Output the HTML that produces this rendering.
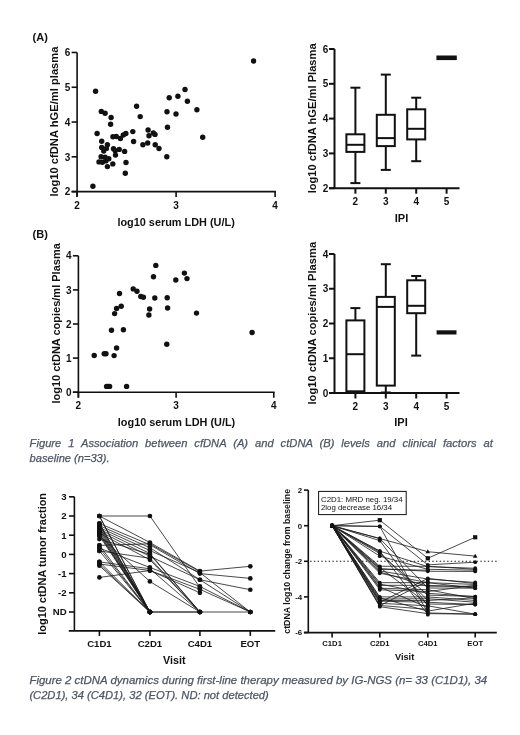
<!DOCTYPE html>
<html><head><meta charset="utf-8"><style>
html,body{margin:0;padding:0;background:#fff;}
svg{display:block;font-family:"Liberation Sans",sans-serif;will-change:transform;}
</style></head><body>
<svg width="520" height="735" viewBox="0 0 520 735">
<rect width="520" height="735" fill="#fff"/>
<text x="32.60" y="41.30" font-size="11" font-weight="bold" text-anchor="start" fill="#111" >(A)</text>
<text x="32.60" y="238.30" font-size="11" font-weight="bold" text-anchor="start" fill="#111" >(B)</text>
<line x1="77.10" y1="52.48" x2="77.10" y2="197.10" stroke="#111" stroke-width="1.6" />
<line x1="71.60" y1="191.60" x2="275.90" y2="191.60" stroke="#111" stroke-width="1.6" />
<line x1="71.60" y1="191.60" x2="77.10" y2="191.60" stroke="#111" stroke-width="1.6" />
<text x="70.20" y="195.40" font-size="10" font-weight="bold" text-anchor="end" fill="#111" >2</text>
<line x1="71.60" y1="156.82" x2="77.10" y2="156.82" stroke="#111" stroke-width="1.6" />
<text x="70.20" y="160.62" font-size="10" font-weight="bold" text-anchor="end" fill="#111" >3</text>
<line x1="71.60" y1="122.04" x2="77.10" y2="122.04" stroke="#111" stroke-width="1.6" />
<text x="70.20" y="125.84" font-size="10" font-weight="bold" text-anchor="end" fill="#111" >4</text>
<line x1="71.60" y1="87.26" x2="77.10" y2="87.26" stroke="#111" stroke-width="1.6" />
<text x="70.20" y="91.06" font-size="10" font-weight="bold" text-anchor="end" fill="#111" >5</text>
<line x1="71.60" y1="52.48" x2="77.10" y2="52.48" stroke="#111" stroke-width="1.6" />
<text x="70.20" y="56.28" font-size="10" font-weight="bold" text-anchor="end" fill="#111" >6</text>
<line x1="77.10" y1="191.60" x2="77.10" y2="197.10" stroke="#111" stroke-width="1.6" />
<text x="77.10" y="208.80" font-size="10" font-weight="bold" text-anchor="middle" fill="#111" >2</text>
<line x1="176.10" y1="191.60" x2="176.10" y2="197.10" stroke="#111" stroke-width="1.6" />
<text x="176.10" y="208.80" font-size="10" font-weight="bold" text-anchor="middle" fill="#111" >3</text>
<line x1="275.10" y1="191.60" x2="275.10" y2="197.10" stroke="#111" stroke-width="1.6" />
<text x="275.10" y="208.80" font-size="10" font-weight="bold" text-anchor="middle" fill="#111" >4</text>
<text x="176.10" y="226.00" font-size="10.9" font-weight="bold" text-anchor="middle" fill="#111" >log10 serum LDH (U/L)</text>
<text transform="translate(58.00,121.50) rotate(-90)" font-size="11.2" font-weight="bold" text-anchor="middle" fill="#111">log10 cfDNA hGE/ml plasma</text>
<circle cx="95.60" cy="91.20" r="2.7" fill="#111"/>
<circle cx="101.30" cy="111.40" r="2.7" fill="#111"/>
<circle cx="105.10" cy="113.20" r="2.7" fill="#111"/>
<circle cx="111.10" cy="117.50" r="2.7" fill="#111"/>
<circle cx="110.60" cy="124.20" r="2.7" fill="#111"/>
<circle cx="136.60" cy="106.20" r="2.7" fill="#111"/>
<circle cx="140.20" cy="116.60" r="2.7" fill="#111"/>
<circle cx="132.80" cy="131.60" r="2.7" fill="#111"/>
<circle cx="97.10" cy="133.50" r="2.7" fill="#111"/>
<circle cx="112.90" cy="136.70" r="2.7" fill="#111"/>
<circle cx="116.30" cy="136.50" r="2.7" fill="#111"/>
<circle cx="120.40" cy="138.50" r="2.7" fill="#111"/>
<circle cx="123.30" cy="135.00" r="2.7" fill="#111"/>
<circle cx="125.90" cy="133.50" r="2.7" fill="#111"/>
<circle cx="133.60" cy="141.50" r="2.7" fill="#111"/>
<circle cx="101.70" cy="141.30" r="2.7" fill="#111"/>
<circle cx="107.40" cy="144.70" r="2.7" fill="#111"/>
<circle cx="101.70" cy="147.40" r="2.7" fill="#111"/>
<circle cx="106.40" cy="148.40" r="2.7" fill="#111"/>
<circle cx="103.70" cy="151.10" r="2.7" fill="#111"/>
<circle cx="113.50" cy="148.70" r="2.7" fill="#111"/>
<circle cx="115.20" cy="150.80" r="2.7" fill="#111"/>
<circle cx="119.20" cy="149.40" r="2.7" fill="#111"/>
<circle cx="124.60" cy="151.40" r="2.7" fill="#111"/>
<circle cx="115.50" cy="155.10" r="2.7" fill="#111"/>
<circle cx="101.10" cy="156.80" r="2.7" fill="#111"/>
<circle cx="105.10" cy="157.20" r="2.7" fill="#111"/>
<circle cx="108.80" cy="158.80" r="2.7" fill="#111"/>
<circle cx="99.00" cy="161.90" r="2.7" fill="#111"/>
<circle cx="102.40" cy="162.20" r="2.7" fill="#111"/>
<circle cx="105.80" cy="160.90" r="2.7" fill="#111"/>
<circle cx="107.40" cy="166.60" r="2.7" fill="#111"/>
<circle cx="112.80" cy="163.90" r="2.7" fill="#111"/>
<circle cx="126.00" cy="162.50" r="2.7" fill="#111"/>
<circle cx="125.30" cy="173.30" r="2.7" fill="#111"/>
<circle cx="92.90" cy="186.30" r="2.7" fill="#111"/>
<circle cx="148.10" cy="130.00" r="2.7" fill="#111"/>
<circle cx="149.00" cy="135.80" r="2.7" fill="#111"/>
<circle cx="153.30" cy="132.90" r="2.7" fill="#111"/>
<circle cx="155.00" cy="134.40" r="2.7" fill="#111"/>
<circle cx="142.90" cy="144.80" r="2.7" fill="#111"/>
<circle cx="147.70" cy="143.00" r="2.7" fill="#111"/>
<circle cx="155.20" cy="144.80" r="2.7" fill="#111"/>
<circle cx="159.00" cy="148.50" r="2.7" fill="#111"/>
<circle cx="166.80" cy="156.80" r="2.7" fill="#111"/>
<circle cx="167.00" cy="111.70" r="2.7" fill="#111"/>
<circle cx="176.00" cy="114.00" r="2.7" fill="#111"/>
<circle cx="196.90" cy="109.80" r="2.7" fill="#111"/>
<circle cx="167.50" cy="127.20" r="2.7" fill="#111"/>
<circle cx="169.20" cy="97.70" r="2.7" fill="#111"/>
<circle cx="177.90" cy="96.30" r="2.7" fill="#111"/>
<circle cx="187.40" cy="101.20" r="2.7" fill="#111"/>
<circle cx="185.00" cy="89.50" r="2.7" fill="#111"/>
<circle cx="202.70" cy="137.30" r="2.7" fill="#111"/>
<circle cx="253.60" cy="61.00" r="2.7" fill="#111"/>
<line x1="334.50" y1="49.00" x2="334.50" y2="188.20" stroke="#111" stroke-width="2.0" />
<line x1="329.00" y1="188.20" x2="459.50" y2="188.20" stroke="#111" stroke-width="2.0" />
<line x1="329.00" y1="188.20" x2="334.50" y2="188.20" stroke="#111" stroke-width="2.0" />
<text x="328.40" y="191.80" font-size="10" font-weight="bold" text-anchor="end" fill="#111" >2</text>
<line x1="329.00" y1="153.40" x2="334.50" y2="153.40" stroke="#111" stroke-width="2.0" />
<text x="328.40" y="157.00" font-size="10" font-weight="bold" text-anchor="end" fill="#111" >3</text>
<line x1="329.00" y1="118.60" x2="334.50" y2="118.60" stroke="#111" stroke-width="2.0" />
<text x="328.40" y="122.20" font-size="10" font-weight="bold" text-anchor="end" fill="#111" >4</text>
<line x1="329.00" y1="83.80" x2="334.50" y2="83.80" stroke="#111" stroke-width="2.0" />
<text x="328.40" y="87.40" font-size="10" font-weight="bold" text-anchor="end" fill="#111" >5</text>
<line x1="329.00" y1="49.00" x2="334.50" y2="49.00" stroke="#111" stroke-width="2.0" />
<text x="328.40" y="52.60" font-size="10" font-weight="bold" text-anchor="end" fill="#111" >6</text>
<line x1="355.40" y1="188.20" x2="355.40" y2="193.70" stroke="#111" stroke-width="2.0" />
<text x="355.40" y="205.40" font-size="10" font-weight="bold" text-anchor="middle" fill="#111" >2</text>
<line x1="385.80" y1="188.20" x2="385.80" y2="193.70" stroke="#111" stroke-width="2.0" />
<text x="385.80" y="205.40" font-size="10" font-weight="bold" text-anchor="middle" fill="#111" >3</text>
<line x1="416.20" y1="188.20" x2="416.20" y2="193.70" stroke="#111" stroke-width="2.0" />
<text x="416.20" y="205.40" font-size="10" font-weight="bold" text-anchor="middle" fill="#111" >4</text>
<line x1="446.60" y1="188.20" x2="446.60" y2="193.70" stroke="#111" stroke-width="2.0" />
<text x="446.60" y="205.40" font-size="10" font-weight="bold" text-anchor="middle" fill="#111" >5</text>
<text x="401.50" y="221.90" font-size="11" font-weight="bold" text-anchor="middle" fill="#111" >IPI</text>
<text transform="translate(315.90,118.35) rotate(-90)" font-size="11.15" font-weight="bold" text-anchor="middle" fill="#111">log10 cfDNA hGE/ml Plasma</text>
<line x1="355.40" y1="134.30" x2="355.40" y2="87.70" stroke="#111" stroke-width="2.0" />
<line x1="350.40" y1="87.70" x2="360.40" y2="87.70" stroke="#111" stroke-width="2.0" />
<line x1="355.40" y1="151.90" x2="355.40" y2="183.10" stroke="#111" stroke-width="2.0" />
<line x1="350.40" y1="183.10" x2="360.40" y2="183.10" stroke="#111" stroke-width="2.0" />
<rect x="346.40" y="134.30" width="18.00" height="17.60" fill="none" stroke="#111" stroke-width="2.0"/>
<line x1="346.40" y1="144.80" x2="364.40" y2="144.80" stroke="#111" stroke-width="2.0" />
<line x1="385.80" y1="114.80" x2="385.80" y2="74.60" stroke="#111" stroke-width="2.0" />
<line x1="380.80" y1="74.60" x2="390.80" y2="74.60" stroke="#111" stroke-width="2.0" />
<line x1="385.80" y1="146.10" x2="385.80" y2="169.90" stroke="#111" stroke-width="2.0" />
<line x1="380.80" y1="169.90" x2="390.80" y2="169.90" stroke="#111" stroke-width="2.0" />
<rect x="376.80" y="114.80" width="18.00" height="31.30" fill="none" stroke="#111" stroke-width="2.0"/>
<line x1="376.80" y1="138.10" x2="394.80" y2="138.10" stroke="#111" stroke-width="2.0" />
<line x1="416.20" y1="109.30" x2="416.20" y2="97.70" stroke="#111" stroke-width="2.0" />
<line x1="411.20" y1="97.70" x2="421.20" y2="97.70" stroke="#111" stroke-width="2.0" />
<line x1="416.20" y1="139.40" x2="416.20" y2="161.20" stroke="#111" stroke-width="2.0" />
<line x1="411.20" y1="161.20" x2="421.20" y2="161.20" stroke="#111" stroke-width="2.0" />
<rect x="407.20" y="109.30" width="18.00" height="30.10" fill="none" stroke="#111" stroke-width="2.0"/>
<line x1="407.20" y1="128.80" x2="425.20" y2="128.80" stroke="#111" stroke-width="2.0" />
<rect x="436.4" y="55.5" width="20.4" height="4.6" fill="#111"/>
<line x1="78.40" y1="255.80" x2="78.40" y2="397.70" stroke="#111" stroke-width="1.6" />
<line x1="72.90" y1="392.20" x2="274.60" y2="392.20" stroke="#111" stroke-width="1.6" />
<line x1="72.90" y1="392.20" x2="78.40" y2="392.20" stroke="#111" stroke-width="1.6" />
<text x="71.50" y="395.80" font-size="10" font-weight="bold" text-anchor="end" fill="#111" >0</text>
<line x1="72.90" y1="358.10" x2="78.40" y2="358.10" stroke="#111" stroke-width="1.6" />
<text x="71.50" y="361.70" font-size="10" font-weight="bold" text-anchor="end" fill="#111" >1</text>
<line x1="72.90" y1="324.00" x2="78.40" y2="324.00" stroke="#111" stroke-width="1.6" />
<text x="71.50" y="327.60" font-size="10" font-weight="bold" text-anchor="end" fill="#111" >2</text>
<line x1="72.90" y1="289.90" x2="78.40" y2="289.90" stroke="#111" stroke-width="1.6" />
<text x="71.50" y="293.50" font-size="10" font-weight="bold" text-anchor="end" fill="#111" >3</text>
<line x1="72.90" y1="255.80" x2="78.40" y2="255.80" stroke="#111" stroke-width="1.6" />
<text x="71.50" y="259.40" font-size="10" font-weight="bold" text-anchor="end" fill="#111" >4</text>
<line x1="78.40" y1="392.20" x2="78.40" y2="397.70" stroke="#111" stroke-width="1.6" />
<text x="78.40" y="409.40" font-size="10" font-weight="bold" text-anchor="middle" fill="#111" >2</text>
<line x1="176.10" y1="392.20" x2="176.10" y2="397.70" stroke="#111" stroke-width="1.6" />
<text x="176.10" y="409.40" font-size="10" font-weight="bold" text-anchor="middle" fill="#111" >3</text>
<line x1="273.80" y1="392.20" x2="273.80" y2="397.70" stroke="#111" stroke-width="1.6" />
<text x="273.80" y="409.40" font-size="10" font-weight="bold" text-anchor="middle" fill="#111" >4</text>
<text x="176.50" y="425.60" font-size="10.9" font-weight="bold" text-anchor="middle" fill="#111" >log10 serum LDH (U/L)</text>
<text transform="translate(59.80,323.40) rotate(-90)" font-size="11.0" font-weight="bold" text-anchor="middle" fill="#111">log10 ctDNA copies/ml Plasma</text>
<circle cx="94.20" cy="355.50" r="2.7" fill="#111"/>
<circle cx="104.20" cy="353.70" r="2.7" fill="#111"/>
<circle cx="106.00" cy="353.70" r="2.7" fill="#111"/>
<circle cx="114.10" cy="355.60" r="2.7" fill="#111"/>
<circle cx="116.60" cy="348.00" r="2.7" fill="#111"/>
<circle cx="111.50" cy="330.30" r="2.7" fill="#111"/>
<circle cx="123.40" cy="329.70" r="2.7" fill="#111"/>
<circle cx="114.60" cy="313.60" r="2.7" fill="#111"/>
<circle cx="116.60" cy="308.50" r="2.7" fill="#111"/>
<circle cx="121.20" cy="306.30" r="2.7" fill="#111"/>
<circle cx="119.50" cy="293.50" r="2.7" fill="#111"/>
<circle cx="133.20" cy="288.90" r="2.7" fill="#111"/>
<circle cx="137.00" cy="291.20" r="2.7" fill="#111"/>
<circle cx="140.80" cy="296.50" r="2.7" fill="#111"/>
<circle cx="143.40" cy="297.20" r="2.7" fill="#111"/>
<circle cx="153.50" cy="276.80" r="2.7" fill="#111"/>
<circle cx="155.80" cy="265.40" r="2.7" fill="#111"/>
<circle cx="154.80" cy="298.00" r="2.7" fill="#111"/>
<circle cx="149.60" cy="309.00" r="2.7" fill="#111"/>
<circle cx="148.90" cy="315.00" r="2.7" fill="#111"/>
<circle cx="167.20" cy="297.70" r="2.7" fill="#111"/>
<circle cx="167.60" cy="308.00" r="2.7" fill="#111"/>
<circle cx="175.80" cy="280.00" r="2.7" fill="#111"/>
<circle cx="184.40" cy="273.10" r="2.7" fill="#111"/>
<circle cx="187.00" cy="278.60" r="2.7" fill="#111"/>
<circle cx="196.50" cy="313.10" r="2.7" fill="#111"/>
<circle cx="166.80" cy="344.20" r="2.7" fill="#111"/>
<circle cx="252.10" cy="332.50" r="2.7" fill="#111"/>
<circle cx="106.60" cy="386.40" r="2.7" fill="#111"/>
<circle cx="108.20" cy="386.40" r="2.7" fill="#111"/>
<circle cx="109.60" cy="386.40" r="2.7" fill="#111"/>
<circle cx="126.60" cy="386.40" r="2.7" fill="#111"/>
<line x1="334.50" y1="254.00" x2="334.50" y2="393.00" stroke="#111" stroke-width="2.0" />
<line x1="329.00" y1="393.00" x2="459.50" y2="393.00" stroke="#111" stroke-width="2.0" />
<line x1="329.00" y1="393.00" x2="334.50" y2="393.00" stroke="#111" stroke-width="2.0" />
<text x="328.40" y="396.60" font-size="10" font-weight="bold" text-anchor="end" fill="#111" >0</text>
<line x1="329.00" y1="358.25" x2="334.50" y2="358.25" stroke="#111" stroke-width="2.0" />
<text x="328.40" y="361.85" font-size="10" font-weight="bold" text-anchor="end" fill="#111" >1</text>
<line x1="329.00" y1="323.50" x2="334.50" y2="323.50" stroke="#111" stroke-width="2.0" />
<text x="328.40" y="327.10" font-size="10" font-weight="bold" text-anchor="end" fill="#111" >2</text>
<line x1="329.00" y1="288.75" x2="334.50" y2="288.75" stroke="#111" stroke-width="2.0" />
<text x="328.40" y="292.35" font-size="10" font-weight="bold" text-anchor="end" fill="#111" >3</text>
<line x1="329.00" y1="254.00" x2="334.50" y2="254.00" stroke="#111" stroke-width="2.0" />
<text x="328.40" y="257.60" font-size="10" font-weight="bold" text-anchor="end" fill="#111" >4</text>
<line x1="355.40" y1="393.00" x2="355.40" y2="398.50" stroke="#111" stroke-width="2.0" />
<text x="355.40" y="409.60" font-size="10" font-weight="bold" text-anchor="middle" fill="#111" >2</text>
<line x1="385.80" y1="393.00" x2="385.80" y2="398.50" stroke="#111" stroke-width="2.0" />
<text x="385.80" y="409.60" font-size="10" font-weight="bold" text-anchor="middle" fill="#111" >3</text>
<line x1="416.20" y1="393.00" x2="416.20" y2="398.50" stroke="#111" stroke-width="2.0" />
<text x="416.20" y="409.60" font-size="10" font-weight="bold" text-anchor="middle" fill="#111" >4</text>
<line x1="446.60" y1="393.00" x2="446.60" y2="398.50" stroke="#111" stroke-width="2.0" />
<text x="446.60" y="409.60" font-size="10" font-weight="bold" text-anchor="middle" fill="#111" >5</text>
<text x="401.00" y="426.40" font-size="11" font-weight="bold" text-anchor="middle" fill="#111" >IPI</text>
<text transform="translate(315.90,323.20) rotate(-90)" font-size="11.17" font-weight="bold" text-anchor="middle" fill="#111">log10 ctDNA copies/ml Plasma</text>
<line x1="355.40" y1="320.40" x2="355.40" y2="308.10" stroke="#111" stroke-width="2.0" />
<line x1="350.40" y1="308.10" x2="360.40" y2="308.10" stroke="#111" stroke-width="2.0" />
<rect x="346.40" y="320.40" width="18.00" height="70.90" fill="none" stroke="#111" stroke-width="2.0"/>
<line x1="346.40" y1="354.20" x2="364.40" y2="354.20" stroke="#111" stroke-width="2.0" />
<line x1="385.80" y1="296.90" x2="385.80" y2="264.20" stroke="#111" stroke-width="2.0" />
<line x1="380.80" y1="264.20" x2="390.80" y2="264.20" stroke="#111" stroke-width="2.0" />
<line x1="385.80" y1="385.60" x2="385.80" y2="392.50" stroke="#111" stroke-width="2.0" />
<line x1="380.80" y1="392.50" x2="390.80" y2="392.50" stroke="#111" stroke-width="2.0" />
<rect x="376.80" y="296.90" width="18.00" height="88.70" fill="none" stroke="#111" stroke-width="2.0"/>
<line x1="376.80" y1="306.90" x2="394.80" y2="306.90" stroke="#111" stroke-width="2.0" />
<line x1="416.20" y1="280.30" x2="416.20" y2="276.00" stroke="#111" stroke-width="2.0" />
<line x1="411.20" y1="276.00" x2="421.20" y2="276.00" stroke="#111" stroke-width="2.0" />
<line x1="416.20" y1="313.20" x2="416.20" y2="355.60" stroke="#111" stroke-width="2.0" />
<line x1="411.20" y1="355.60" x2="421.20" y2="355.60" stroke="#111" stroke-width="2.0" />
<rect x="407.20" y="280.30" width="18.00" height="32.90" fill="none" stroke="#111" stroke-width="2.0"/>
<line x1="407.20" y1="305.80" x2="425.20" y2="305.80" stroke="#111" stroke-width="2.0" />
<rect x="436.6" y="330.3" width="19.9" height="4.2" fill="#111"/>
<text x="29.6" y="447.0" font-size="11.2" font-style="italic" fill="#4f5663" stroke="#4f5663" stroke-width="0.25" word-spacing="3.821">Figure 1 Association between cfDNA (A) and ctDNA (B) levels and clinical factors at</text>
<text x="29.6" y="461.9" font-size="11.2" font-style="italic" fill="#4f5663" stroke="#4f5663" stroke-width="0.25" textLength="80.0" lengthAdjust="spacingAndGlyphs">baseline (n=33).</text>
<text x="29.4" y="683.8" font-size="11.2" font-style="italic" fill="#4f5663" stroke="#4f5663" stroke-width="0.25" textLength="457.8" lengthAdjust="spacingAndGlyphs">Figure 2 ctDNA dynamics during first-line therapy measured by IG-NGS (n= 33 (C1D1), 34</text>
<text x="29.4" y="698.8" font-size="11.2" font-style="italic" fill="#4f5663" stroke="#4f5663" stroke-width="0.25" textLength="239.4" lengthAdjust="spacingAndGlyphs">(C2D1), 34 (C4D1), 32 (EOT). ND: not detected)</text>
<line x1="74.40" y1="496.80" x2="74.40" y2="630.90" stroke="#111" stroke-width="1.6" />
<line x1="68.80" y1="630.90" x2="275.20" y2="630.90" stroke="#111" stroke-width="1.6" />
<line x1="69.00" y1="496.80" x2="74.40" y2="496.80" stroke="#111" stroke-width="1.6" />
<text x="66.60" y="500.20" font-size="9.6" font-weight="bold" text-anchor="end" fill="#111" >3</text>
<line x1="69.00" y1="516.00" x2="74.40" y2="516.00" stroke="#111" stroke-width="1.6" />
<text x="66.60" y="519.40" font-size="9.6" font-weight="bold" text-anchor="end" fill="#111" >2</text>
<line x1="69.00" y1="535.20" x2="74.40" y2="535.20" stroke="#111" stroke-width="1.6" />
<text x="66.60" y="538.60" font-size="9.6" font-weight="bold" text-anchor="end" fill="#111" >1</text>
<line x1="69.00" y1="554.40" x2="74.40" y2="554.40" stroke="#111" stroke-width="1.6" />
<text x="66.60" y="557.80" font-size="9.6" font-weight="bold" text-anchor="end" fill="#111" >0</text>
<line x1="69.00" y1="573.60" x2="74.40" y2="573.60" stroke="#111" stroke-width="1.6" />
<text x="66.60" y="577.00" font-size="9.6" font-weight="bold" text-anchor="end" fill="#111" >-1</text>
<line x1="69.00" y1="592.80" x2="74.40" y2="592.80" stroke="#111" stroke-width="1.6" />
<text x="66.60" y="596.20" font-size="9.6" font-weight="bold" text-anchor="end" fill="#111" >-2</text>
<line x1="69.00" y1="612.00" x2="74.40" y2="612.00" stroke="#111" stroke-width="1.6" />
<text x="66.60" y="615.40" font-size="9.6" font-weight="bold" text-anchor="end" fill="#111" >ND</text>
<line x1="99.40" y1="630.90" x2="99.40" y2="635.90" stroke="#111" stroke-width="1.6" />
<text x="99.40" y="647.30" font-size="9.6" font-weight="bold" text-anchor="middle" fill="#111" >C1D1</text>
<line x1="149.90" y1="630.90" x2="149.90" y2="635.90" stroke="#111" stroke-width="1.6" />
<text x="149.90" y="647.30" font-size="9.6" font-weight="bold" text-anchor="middle" fill="#111" >C2D1</text>
<line x1="199.90" y1="630.90" x2="199.90" y2="635.90" stroke="#111" stroke-width="1.6" />
<text x="199.90" y="647.30" font-size="9.6" font-weight="bold" text-anchor="middle" fill="#111" >C4D1</text>
<line x1="250.30" y1="630.90" x2="250.30" y2="635.90" stroke="#111" stroke-width="1.6" />
<text x="250.30" y="647.30" font-size="9.6" font-weight="bold" text-anchor="middle" fill="#111" >EOT</text>
<text x="174.40" y="663.50" font-size="10.8" font-weight="bold" text-anchor="middle" fill="#111" >Visit</text>
<text transform="translate(46.00,563.85) rotate(-90)" font-size="10.95" font-weight="bold" text-anchor="middle" fill="#111">log10 ctDNA tumor fraction</text>
<polyline points="99.40,516.00 149.90,612.00" fill="none" stroke="#1a1a1a" stroke-width="0.8"/>
<polyline points="99.40,516.00 149.90,612.00" fill="none" stroke="#1a1a1a" stroke-width="0.8"/>
<polyline points="99.40,523.49 149.90,612.00" fill="none" stroke="#1a1a1a" stroke-width="0.8"/>
<polyline points="99.40,525.60 149.90,612.00" fill="none" stroke="#1a1a1a" stroke-width="0.8"/>
<polyline points="99.40,527.52 149.90,612.00" fill="none" stroke="#1a1a1a" stroke-width="0.8"/>
<polyline points="99.40,529.44 149.90,612.00" fill="none" stroke="#1a1a1a" stroke-width="0.8"/>
<polyline points="99.40,531.36 149.90,612.00" fill="none" stroke="#1a1a1a" stroke-width="0.8"/>
<polyline points="99.40,533.28 149.90,612.00" fill="none" stroke="#1a1a1a" stroke-width="0.8"/>
<polyline points="99.40,535.78 149.90,612.00 199.90,612.00 250.30,612.00" fill="none" stroke="#1a1a1a" stroke-width="0.8"/>
<polyline points="99.40,534.24 149.90,612.00" fill="none" stroke="#1a1a1a" stroke-width="0.8"/>
<polyline points="99.40,545.38 149.90,612.00" fill="none" stroke="#1a1a1a" stroke-width="0.8"/>
<polyline points="99.40,548.06 149.90,612.00" fill="none" stroke="#1a1a1a" stroke-width="0.8"/>
<polyline points="99.40,550.94 149.90,612.00 199.90,612.00" fill="none" stroke="#1a1a1a" stroke-width="0.8"/>
<polyline points="99.40,561.89 149.90,612.00" fill="none" stroke="#1a1a1a" stroke-width="0.8"/>
<polyline points="99.40,564.00 149.90,612.00" fill="none" stroke="#1a1a1a" stroke-width="0.8"/>
<polyline points="99.40,565.73 149.90,612.00" fill="none" stroke="#1a1a1a" stroke-width="0.8"/>
<polyline points="99.40,516.00 149.90,516.00 199.90,587.42" fill="none" stroke="#1a1a1a" stroke-width="0.8"/>
<polyline points="99.40,516.00 149.90,542.50 199.90,571.10 250.30,566.30" fill="none" stroke="#1a1a1a" stroke-width="0.8"/>
<polyline points="99.40,523.49 149.90,544.80 199.90,573.60 250.30,578.40" fill="none" stroke="#1a1a1a" stroke-width="0.8"/>
<polyline points="99.40,525.60 149.90,547.68 199.90,579.74 250.30,589.73" fill="none" stroke="#1a1a1a" stroke-width="0.8"/>
<polyline points="99.40,527.52 149.90,550.56 199.90,572.64 250.30,612.00" fill="none" stroke="#1a1a1a" stroke-width="0.8"/>
<polyline points="99.40,529.44 149.90,553.44 199.90,612.00" fill="none" stroke="#1a1a1a" stroke-width="0.8"/>
<polyline points="99.40,531.36 149.90,556.32 199.90,579.74 250.30,612.00" fill="none" stroke="#1a1a1a" stroke-width="0.8"/>
<polyline points="99.40,533.28 149.90,559.78 199.90,612.00" fill="none" stroke="#1a1a1a" stroke-width="0.8"/>
<polyline points="99.40,535.78 149.90,581.47 199.90,612.00" fill="none" stroke="#1a1a1a" stroke-width="0.8"/>
<polyline points="99.40,545.38 149.90,543.84 199.90,571.68" fill="none" stroke="#1a1a1a" stroke-width="0.8"/>
<polyline points="99.40,548.06 149.90,567.46 199.90,586.46 250.30,612.00" fill="none" stroke="#1a1a1a" stroke-width="0.8"/>
<polyline points="99.40,550.94 149.90,558.24 199.90,612.00" fill="none" stroke="#1a1a1a" stroke-width="0.8"/>
<polyline points="99.40,564.00 149.90,570.53 199.90,592.80" fill="none" stroke="#1a1a1a" stroke-width="0.8"/>
<polyline points="99.40,577.44 149.90,570.53 199.90,589.34 250.30,612.00" fill="none" stroke="#1a1a1a" stroke-width="0.8"/>
<polyline points="99.40,523.49 149.90,612.00" fill="none" stroke="#1a1a1a" stroke-width="0.8"/>
<polyline points="99.40,561.89 149.90,568.80 199.90,612.00" fill="none" stroke="#1a1a1a" stroke-width="0.8"/>
<polyline points="99.40,539.04 149.90,554.40 199.90,612.00" fill="none" stroke="#1a1a1a" stroke-width="0.8"/>
<circle cx="99.40" cy="516.00" r="2.35" fill="#111"/>
<circle cx="149.90" cy="612.00" r="2.35" fill="#111"/>
<circle cx="99.40" cy="516.00" r="2.35" fill="#111"/>
<circle cx="149.90" cy="612.00" r="2.35" fill="#111"/>
<circle cx="99.40" cy="523.49" r="2.35" fill="#111"/>
<circle cx="149.90" cy="612.00" r="2.35" fill="#111"/>
<circle cx="99.40" cy="525.60" r="2.35" fill="#111"/>
<circle cx="149.90" cy="612.00" r="2.35" fill="#111"/>
<circle cx="99.40" cy="527.52" r="2.35" fill="#111"/>
<circle cx="149.90" cy="612.00" r="2.35" fill="#111"/>
<circle cx="99.40" cy="529.44" r="2.35" fill="#111"/>
<circle cx="149.90" cy="612.00" r="2.35" fill="#111"/>
<circle cx="99.40" cy="531.36" r="2.35" fill="#111"/>
<circle cx="149.90" cy="612.00" r="2.35" fill="#111"/>
<circle cx="99.40" cy="533.28" r="2.35" fill="#111"/>
<circle cx="149.90" cy="612.00" r="2.35" fill="#111"/>
<circle cx="99.40" cy="535.78" r="2.35" fill="#111"/>
<circle cx="149.90" cy="612.00" r="2.35" fill="#111"/>
<circle cx="199.90" cy="612.00" r="2.35" fill="#111"/>
<circle cx="250.30" cy="612.00" r="2.35" fill="#111"/>
<circle cx="99.40" cy="534.24" r="2.35" fill="#111"/>
<circle cx="149.90" cy="612.00" r="2.35" fill="#111"/>
<circle cx="99.40" cy="545.38" r="2.35" fill="#111"/>
<circle cx="149.90" cy="612.00" r="2.35" fill="#111"/>
<circle cx="99.40" cy="548.06" r="2.35" fill="#111"/>
<circle cx="149.90" cy="612.00" r="2.35" fill="#111"/>
<circle cx="99.40" cy="550.94" r="2.35" fill="#111"/>
<circle cx="149.90" cy="612.00" r="2.35" fill="#111"/>
<circle cx="199.90" cy="612.00" r="2.35" fill="#111"/>
<circle cx="99.40" cy="561.89" r="2.35" fill="#111"/>
<circle cx="149.90" cy="612.00" r="2.35" fill="#111"/>
<circle cx="99.40" cy="564.00" r="2.35" fill="#111"/>
<circle cx="149.90" cy="612.00" r="2.35" fill="#111"/>
<circle cx="99.40" cy="565.73" r="2.35" fill="#111"/>
<circle cx="149.90" cy="612.00" r="2.35" fill="#111"/>
<circle cx="99.40" cy="516.00" r="2.35" fill="#111"/>
<circle cx="149.90" cy="516.00" r="2.35" fill="#111"/>
<circle cx="199.90" cy="587.42" r="2.35" fill="#111"/>
<circle cx="99.40" cy="516.00" r="2.35" fill="#111"/>
<circle cx="149.90" cy="542.50" r="2.35" fill="#111"/>
<circle cx="199.90" cy="571.10" r="2.35" fill="#111"/>
<circle cx="250.30" cy="566.30" r="2.35" fill="#111"/>
<circle cx="99.40" cy="523.49" r="2.35" fill="#111"/>
<circle cx="149.90" cy="544.80" r="2.35" fill="#111"/>
<circle cx="199.90" cy="573.60" r="2.35" fill="#111"/>
<circle cx="250.30" cy="578.40" r="2.35" fill="#111"/>
<circle cx="99.40" cy="525.60" r="2.35" fill="#111"/>
<circle cx="149.90" cy="547.68" r="2.35" fill="#111"/>
<circle cx="199.90" cy="579.74" r="2.35" fill="#111"/>
<circle cx="250.30" cy="589.73" r="2.35" fill="#111"/>
<circle cx="99.40" cy="527.52" r="2.35" fill="#111"/>
<circle cx="149.90" cy="550.56" r="2.35" fill="#111"/>
<circle cx="199.90" cy="572.64" r="2.35" fill="#111"/>
<circle cx="250.30" cy="612.00" r="2.35" fill="#111"/>
<circle cx="99.40" cy="529.44" r="2.35" fill="#111"/>
<circle cx="149.90" cy="553.44" r="2.35" fill="#111"/>
<circle cx="199.90" cy="612.00" r="2.35" fill="#111"/>
<circle cx="99.40" cy="531.36" r="2.35" fill="#111"/>
<circle cx="149.90" cy="556.32" r="2.35" fill="#111"/>
<circle cx="199.90" cy="579.74" r="2.35" fill="#111"/>
<circle cx="250.30" cy="612.00" r="2.35" fill="#111"/>
<circle cx="99.40" cy="533.28" r="2.35" fill="#111"/>
<circle cx="149.90" cy="559.78" r="2.35" fill="#111"/>
<circle cx="199.90" cy="612.00" r="2.35" fill="#111"/>
<circle cx="99.40" cy="535.78" r="2.35" fill="#111"/>
<circle cx="149.90" cy="581.47" r="2.35" fill="#111"/>
<circle cx="199.90" cy="612.00" r="2.35" fill="#111"/>
<circle cx="99.40" cy="545.38" r="2.35" fill="#111"/>
<circle cx="149.90" cy="543.84" r="2.35" fill="#111"/>
<circle cx="199.90" cy="571.68" r="2.35" fill="#111"/>
<circle cx="99.40" cy="548.06" r="2.35" fill="#111"/>
<circle cx="149.90" cy="567.46" r="2.35" fill="#111"/>
<circle cx="199.90" cy="586.46" r="2.35" fill="#111"/>
<circle cx="250.30" cy="612.00" r="2.35" fill="#111"/>
<circle cx="99.40" cy="550.94" r="2.35" fill="#111"/>
<circle cx="149.90" cy="558.24" r="2.35" fill="#111"/>
<circle cx="199.90" cy="612.00" r="2.35" fill="#111"/>
<circle cx="99.40" cy="564.00" r="2.35" fill="#111"/>
<circle cx="149.90" cy="570.53" r="2.35" fill="#111"/>
<circle cx="199.90" cy="592.80" r="2.35" fill="#111"/>
<circle cx="99.40" cy="577.44" r="2.35" fill="#111"/>
<circle cx="149.90" cy="570.53" r="2.35" fill="#111"/>
<circle cx="199.90" cy="589.34" r="2.35" fill="#111"/>
<circle cx="250.30" cy="612.00" r="2.35" fill="#111"/>
<circle cx="99.40" cy="523.49" r="2.35" fill="#111"/>
<circle cx="149.90" cy="612.00" r="2.35" fill="#111"/>
<circle cx="99.40" cy="561.89" r="2.35" fill="#111"/>
<circle cx="149.90" cy="568.80" r="2.35" fill="#111"/>
<circle cx="199.90" cy="612.00" r="2.35" fill="#111"/>
<circle cx="99.40" cy="539.04" r="2.35" fill="#111"/>
<circle cx="149.90" cy="554.40" r="2.35" fill="#111"/>
<circle cx="199.90" cy="612.00" r="2.35" fill="#111"/>
<line x1="308.30" y1="490.10" x2="308.30" y2="632.60" stroke="#111" stroke-width="1.6" />
<line x1="303.90" y1="632.60" x2="496.80" y2="632.60" stroke="#111" stroke-width="1.6" />
<line x1="304.00" y1="490.10" x2="308.30" y2="490.10" stroke="#111" stroke-width="1.6" />
<text x="302.20" y="493.00" font-size="7.9" font-weight="bold" text-anchor="end" fill="#111" >2</text>
<line x1="304.00" y1="525.70" x2="308.30" y2="525.70" stroke="#111" stroke-width="1.6" />
<text x="302.20" y="528.60" font-size="7.9" font-weight="bold" text-anchor="end" fill="#111" >0</text>
<line x1="304.00" y1="561.30" x2="308.30" y2="561.30" stroke="#111" stroke-width="1.6" />
<text x="302.20" y="564.20" font-size="7.9" font-weight="bold" text-anchor="end" fill="#111" >-2</text>
<line x1="304.00" y1="596.90" x2="308.30" y2="596.90" stroke="#111" stroke-width="1.6" />
<text x="302.20" y="599.80" font-size="7.9" font-weight="bold" text-anchor="end" fill="#111" >-4</text>
<line x1="304.00" y1="632.50" x2="308.30" y2="632.50" stroke="#111" stroke-width="1.6" />
<text x="302.20" y="635.40" font-size="7.9" font-weight="bold" text-anchor="end" fill="#111" >-6</text>
<line x1="332.10" y1="632.60" x2="332.10" y2="637.40" stroke="#111" stroke-width="1.6" />
<text x="332.10" y="645.90" font-size="7.7" font-weight="bold" text-anchor="middle" fill="#111" >C1D1</text>
<line x1="379.80" y1="632.60" x2="379.80" y2="637.40" stroke="#111" stroke-width="1.6" />
<text x="379.80" y="645.90" font-size="7.7" font-weight="bold" text-anchor="middle" fill="#111" >C2D1</text>
<line x1="427.80" y1="632.60" x2="427.80" y2="637.40" stroke="#111" stroke-width="1.6" />
<text x="427.80" y="645.90" font-size="7.7" font-weight="bold" text-anchor="middle" fill="#111" >C4D1</text>
<line x1="475.20" y1="632.60" x2="475.20" y2="637.40" stroke="#111" stroke-width="1.6" />
<text x="475.20" y="645.90" font-size="7.7" font-weight="bold" text-anchor="middle" fill="#111" >EOT</text>
<text x="404.60" y="660.40" font-size="9.2" font-weight="bold" text-anchor="middle" fill="#111" >Visit</text>
<text transform="translate(290.10,561.30) rotate(-90)" font-size="8.8" font-weight="bold" text-anchor="middle" fill="#111">ctDNA log10 change from baseline</text>
<line x1="310.2" y1="561.30" x2="497.2" y2="561.30" stroke="#111" stroke-width="1.1" stroke-dasharray="1.4 2.3"/>
<rect x="318.6" y="491.4" width="87.6" height="23.2" fill="#fff" stroke="#111" stroke-width="1"/>
<text x="321.00" y="501.90" font-size="7.85" font-weight="normal" text-anchor="start" fill="#111" >C2D1: MRD neg. 19/34</text>
<text x="321.00" y="510.20" font-size="7.85" font-weight="normal" text-anchor="start" fill="#111" >2log decrease 16/34</text>
<polyline points="332.10,525.70 379.80,520.18 427.80,558.27 475.20,537.27" fill="none" stroke="#1a1a1a" stroke-width="0.8"/>
<polyline points="332.10,525.70 379.80,538.52 427.80,551.69 475.20,556.14" fill="none" stroke="#1a1a1a" stroke-width="0.8"/>
<polyline points="332.10,525.70 379.80,526.41 427.80,612.92 475.20,614.17" fill="none" stroke="#1a1a1a" stroke-width="0.8"/>
<polyline points="332.10,525.70 379.80,526.41 427.80,564.86 475.20,562.19" fill="none" stroke="#1a1a1a" stroke-width="0.8"/>
<polyline points="332.10,525.70 379.80,540.65 427.80,605.80" fill="none" stroke="#1a1a1a" stroke-width="0.8"/>
<polyline points="332.10,525.70 379.80,551.15 427.80,566.64 475.20,568.24" fill="none" stroke="#1a1a1a" stroke-width="0.8"/>
<polyline points="332.10,525.70 379.80,553.65 427.80,595.12 475.20,596.54" fill="none" stroke="#1a1a1a" stroke-width="0.8"/>
<polyline points="332.10,525.70 379.80,556.14 427.80,569.31 475.20,570.20" fill="none" stroke="#1a1a1a" stroke-width="0.8"/>
<polyline points="332.10,525.70 379.80,552.40 427.80,600.46" fill="none" stroke="#1a1a1a" stroke-width="0.8"/>
<polyline points="332.10,525.70 379.80,566.28 427.80,566.28 475.20,569.31" fill="none" stroke="#1a1a1a" stroke-width="0.8"/>
<polyline points="332.10,525.70 379.80,568.60 427.80,571.27 475.20,571.45" fill="none" stroke="#1a1a1a" stroke-width="0.8"/>
<polyline points="332.10,525.70 379.80,570.91 427.80,579.10 475.20,582.48" fill="none" stroke="#1a1a1a" stroke-width="0.8"/>
<polyline points="332.10,525.70 379.80,573.23 427.80,582.66 475.20,584.44" fill="none" stroke="#1a1a1a" stroke-width="0.8"/>
<polyline points="332.10,525.70 379.80,567.53 427.80,604.02 475.20,604.55" fill="none" stroke="#1a1a1a" stroke-width="0.8"/>
<polyline points="332.10,525.70 379.80,571.98 427.80,586.22 475.20,586.22" fill="none" stroke="#1a1a1a" stroke-width="0.8"/>
<polyline points="332.10,525.70 379.80,582.66 427.80,582.66 475.20,588.18" fill="none" stroke="#1a1a1a" stroke-width="0.8"/>
<polyline points="332.10,525.70 379.80,585.33 427.80,585.33 475.20,587.11" fill="none" stroke="#1a1a1a" stroke-width="0.8"/>
<polyline points="332.10,525.70 379.80,588.18 427.80,589.78 475.20,598.68" fill="none" stroke="#1a1a1a" stroke-width="0.8"/>
<polyline points="332.10,525.70 379.80,584.08 427.80,593.34 475.20,596.54" fill="none" stroke="#1a1a1a" stroke-width="0.8"/>
<polyline points="332.10,525.70 379.80,587.11 427.80,607.58" fill="none" stroke="#1a1a1a" stroke-width="0.8"/>
<polyline points="332.10,525.70 379.80,596.90 427.80,596.90 475.20,600.46" fill="none" stroke="#1a1a1a" stroke-width="0.8"/>
<polyline points="332.10,525.70 379.80,599.04 427.80,598.68 475.20,602.24" fill="none" stroke="#1a1a1a" stroke-width="0.8"/>
<polyline points="332.10,525.70 379.80,601.17 427.80,602.24 475.20,604.55" fill="none" stroke="#1a1a1a" stroke-width="0.8"/>
<polyline points="332.10,525.70 379.80,603.31 427.80,605.80 475.20,614.17" fill="none" stroke="#1a1a1a" stroke-width="0.8"/>
<polyline points="332.10,525.70 379.80,605.44 427.80,609.36" fill="none" stroke="#1a1a1a" stroke-width="0.8"/>
<polyline points="332.10,525.70 379.80,606.69 427.80,613.63 475.20,614.17" fill="none" stroke="#1a1a1a" stroke-width="0.8"/>
<polyline points="332.10,525.70 379.80,597.79 427.80,611.14 475.20,603.13" fill="none" stroke="#1a1a1a" stroke-width="0.8"/>
<polyline points="332.10,525.70 379.80,602.24 427.80,578.39 475.20,583.55" fill="none" stroke="#1a1a1a" stroke-width="0.8"/>
<polyline points="332.10,525.70 379.80,605.80 427.80,580.88" fill="none" stroke="#1a1a1a" stroke-width="0.8"/>
<polyline points="332.10,525.70 379.80,600.46 427.80,600.46 475.20,597.79" fill="none" stroke="#1a1a1a" stroke-width="0.8"/>
<polyline points="332.10,525.70 379.80,589.78 427.80,591.56 475.20,585.33" fill="none" stroke="#1a1a1a" stroke-width="0.8"/>
<polyline points="332.10,525.70 379.80,538.52 427.80,588.00 475.20,588.18" fill="none" stroke="#1a1a1a" stroke-width="0.8"/>
<polyline points="332.10,525.70 379.80,569.31 427.80,570.20" fill="none" stroke="#1a1a1a" stroke-width="0.8"/>
<polyline points="332.10,525.70 379.80,551.15 427.80,614.70" fill="none" stroke="#1a1a1a" stroke-width="0.8"/>
<rect x="330.00" y="523.60" width="4.2" height="4.2" fill="#111"/>
<rect x="377.70" y="518.08" width="4.2" height="4.2" fill="#111"/>
<rect x="425.70" y="556.17" width="4.2" height="4.2" fill="#111"/>
<rect x="473.10" y="535.17" width="4.2" height="4.2" fill="#111"/>
<polygon points="332.10,523.30 334.40,527.30 329.80,527.30" fill="#111"/>
<polygon points="379.80,536.12 382.10,540.12 377.50,540.12" fill="#111"/>
<polygon points="427.80,549.29 430.10,553.29 425.50,553.29" fill="#111"/>
<polygon points="475.20,553.74 477.50,557.74 472.90,557.74" fill="#111"/>
<circle cx="332.10" cy="525.70" r="1.9" fill="#111"/>
<circle cx="379.80" cy="526.41" r="1.9" fill="#111"/>
<circle cx="427.80" cy="612.92" r="1.9" fill="#111"/>
<circle cx="475.20" cy="614.17" r="1.9" fill="#111"/>
<circle cx="332.10" cy="525.70" r="1.9" fill="#111"/>
<circle cx="379.80" cy="526.41" r="1.9" fill="#111"/>
<circle cx="427.80" cy="564.86" r="1.9" fill="#111"/>
<circle cx="475.20" cy="562.19" r="1.9" fill="#111"/>
<circle cx="332.10" cy="525.70" r="1.9" fill="#111"/>
<circle cx="379.80" cy="540.65" r="1.9" fill="#111"/>
<circle cx="427.80" cy="605.80" r="1.9" fill="#111"/>
<circle cx="332.10" cy="525.70" r="1.9" fill="#111"/>
<circle cx="379.80" cy="551.15" r="1.9" fill="#111"/>
<circle cx="427.80" cy="566.64" r="1.9" fill="#111"/>
<circle cx="475.20" cy="568.24" r="1.9" fill="#111"/>
<circle cx="332.10" cy="525.70" r="1.9" fill="#111"/>
<circle cx="379.80" cy="553.65" r="1.9" fill="#111"/>
<circle cx="427.80" cy="595.12" r="1.9" fill="#111"/>
<circle cx="475.20" cy="596.54" r="1.9" fill="#111"/>
<circle cx="332.10" cy="525.70" r="1.9" fill="#111"/>
<circle cx="379.80" cy="556.14" r="1.9" fill="#111"/>
<circle cx="427.80" cy="569.31" r="1.9" fill="#111"/>
<circle cx="475.20" cy="570.20" r="1.9" fill="#111"/>
<circle cx="332.10" cy="525.70" r="1.9" fill="#111"/>
<circle cx="379.80" cy="552.40" r="1.9" fill="#111"/>
<circle cx="427.80" cy="600.46" r="1.9" fill="#111"/>
<circle cx="332.10" cy="525.70" r="1.9" fill="#111"/>
<circle cx="379.80" cy="566.28" r="1.9" fill="#111"/>
<circle cx="427.80" cy="566.28" r="1.9" fill="#111"/>
<circle cx="475.20" cy="569.31" r="1.9" fill="#111"/>
<circle cx="332.10" cy="525.70" r="1.9" fill="#111"/>
<circle cx="379.80" cy="568.60" r="1.9" fill="#111"/>
<circle cx="427.80" cy="571.27" r="1.9" fill="#111"/>
<circle cx="475.20" cy="571.45" r="1.9" fill="#111"/>
<circle cx="332.10" cy="525.70" r="1.9" fill="#111"/>
<circle cx="379.80" cy="570.91" r="1.9" fill="#111"/>
<circle cx="427.80" cy="579.10" r="1.9" fill="#111"/>
<circle cx="475.20" cy="582.48" r="1.9" fill="#111"/>
<circle cx="332.10" cy="525.70" r="1.9" fill="#111"/>
<circle cx="379.80" cy="573.23" r="1.9" fill="#111"/>
<circle cx="427.80" cy="582.66" r="1.9" fill="#111"/>
<circle cx="475.20" cy="584.44" r="1.9" fill="#111"/>
<circle cx="332.10" cy="525.70" r="1.9" fill="#111"/>
<circle cx="379.80" cy="567.53" r="1.9" fill="#111"/>
<circle cx="427.80" cy="604.02" r="1.9" fill="#111"/>
<circle cx="475.20" cy="604.55" r="1.9" fill="#111"/>
<circle cx="332.10" cy="525.70" r="1.9" fill="#111"/>
<circle cx="379.80" cy="571.98" r="1.9" fill="#111"/>
<circle cx="427.80" cy="586.22" r="1.9" fill="#111"/>
<circle cx="475.20" cy="586.22" r="1.9" fill="#111"/>
<circle cx="332.10" cy="525.70" r="1.9" fill="#111"/>
<circle cx="379.80" cy="582.66" r="1.9" fill="#111"/>
<circle cx="427.80" cy="582.66" r="1.9" fill="#111"/>
<circle cx="475.20" cy="588.18" r="1.9" fill="#111"/>
<circle cx="332.10" cy="525.70" r="1.9" fill="#111"/>
<circle cx="379.80" cy="585.33" r="1.9" fill="#111"/>
<circle cx="427.80" cy="585.33" r="1.9" fill="#111"/>
<circle cx="475.20" cy="587.11" r="1.9" fill="#111"/>
<circle cx="332.10" cy="525.70" r="1.9" fill="#111"/>
<circle cx="379.80" cy="588.18" r="1.9" fill="#111"/>
<circle cx="427.80" cy="589.78" r="1.9" fill="#111"/>
<circle cx="475.20" cy="598.68" r="1.9" fill="#111"/>
<circle cx="332.10" cy="525.70" r="1.9" fill="#111"/>
<circle cx="379.80" cy="584.08" r="1.9" fill="#111"/>
<circle cx="427.80" cy="593.34" r="1.9" fill="#111"/>
<circle cx="475.20" cy="596.54" r="1.9" fill="#111"/>
<circle cx="332.10" cy="525.70" r="1.9" fill="#111"/>
<circle cx="379.80" cy="587.11" r="1.9" fill="#111"/>
<circle cx="427.80" cy="607.58" r="1.9" fill="#111"/>
<circle cx="332.10" cy="525.70" r="1.9" fill="#111"/>
<circle cx="379.80" cy="596.90" r="1.9" fill="#111"/>
<circle cx="427.80" cy="596.90" r="1.9" fill="#111"/>
<circle cx="475.20" cy="600.46" r="1.9" fill="#111"/>
<circle cx="332.10" cy="525.70" r="1.9" fill="#111"/>
<circle cx="379.80" cy="599.04" r="1.9" fill="#111"/>
<circle cx="427.80" cy="598.68" r="1.9" fill="#111"/>
<circle cx="475.20" cy="602.24" r="1.9" fill="#111"/>
<circle cx="332.10" cy="525.70" r="1.9" fill="#111"/>
<circle cx="379.80" cy="601.17" r="1.9" fill="#111"/>
<circle cx="427.80" cy="602.24" r="1.9" fill="#111"/>
<circle cx="475.20" cy="604.55" r="1.9" fill="#111"/>
<circle cx="332.10" cy="525.70" r="1.9" fill="#111"/>
<circle cx="379.80" cy="603.31" r="1.9" fill="#111"/>
<circle cx="427.80" cy="605.80" r="1.9" fill="#111"/>
<circle cx="475.20" cy="614.17" r="1.9" fill="#111"/>
<circle cx="332.10" cy="525.70" r="1.9" fill="#111"/>
<circle cx="379.80" cy="605.44" r="1.9" fill="#111"/>
<circle cx="427.80" cy="609.36" r="1.9" fill="#111"/>
<circle cx="332.10" cy="525.70" r="1.9" fill="#111"/>
<circle cx="379.80" cy="606.69" r="1.9" fill="#111"/>
<circle cx="427.80" cy="613.63" r="1.9" fill="#111"/>
<circle cx="475.20" cy="614.17" r="1.9" fill="#111"/>
<circle cx="332.10" cy="525.70" r="1.9" fill="#111"/>
<circle cx="379.80" cy="597.79" r="1.9" fill="#111"/>
<circle cx="427.80" cy="611.14" r="1.9" fill="#111"/>
<circle cx="475.20" cy="603.13" r="1.9" fill="#111"/>
<circle cx="332.10" cy="525.70" r="1.9" fill="#111"/>
<circle cx="379.80" cy="602.24" r="1.9" fill="#111"/>
<circle cx="427.80" cy="578.39" r="1.9" fill="#111"/>
<circle cx="475.20" cy="583.55" r="1.9" fill="#111"/>
<circle cx="332.10" cy="525.70" r="1.9" fill="#111"/>
<circle cx="379.80" cy="605.80" r="1.9" fill="#111"/>
<circle cx="427.80" cy="580.88" r="1.9" fill="#111"/>
<circle cx="332.10" cy="525.70" r="1.9" fill="#111"/>
<circle cx="379.80" cy="600.46" r="1.9" fill="#111"/>
<circle cx="427.80" cy="600.46" r="1.9" fill="#111"/>
<circle cx="475.20" cy="597.79" r="1.9" fill="#111"/>
<circle cx="332.10" cy="525.70" r="1.9" fill="#111"/>
<circle cx="379.80" cy="589.78" r="1.9" fill="#111"/>
<circle cx="427.80" cy="591.56" r="1.9" fill="#111"/>
<circle cx="475.20" cy="585.33" r="1.9" fill="#111"/>
<circle cx="332.10" cy="525.70" r="1.9" fill="#111"/>
<circle cx="379.80" cy="538.52" r="1.9" fill="#111"/>
<circle cx="427.80" cy="588.00" r="1.9" fill="#111"/>
<circle cx="475.20" cy="588.18" r="1.9" fill="#111"/>
<circle cx="332.10" cy="525.70" r="1.9" fill="#111"/>
<circle cx="379.80" cy="569.31" r="1.9" fill="#111"/>
<circle cx="427.80" cy="570.20" r="1.9" fill="#111"/>
<circle cx="332.10" cy="525.70" r="1.9" fill="#111"/>
<circle cx="379.80" cy="551.15" r="1.9" fill="#111"/>
<circle cx="427.80" cy="614.70" r="1.9" fill="#111"/>
</svg></body></html>
